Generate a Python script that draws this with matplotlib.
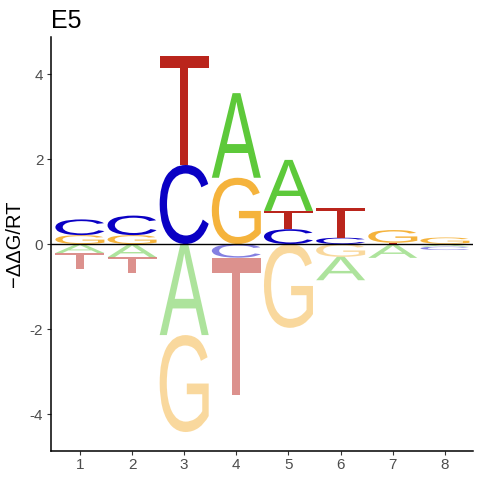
import matplotlib
matplotlib.use('Agg')
import matplotlib.pyplot as plt
from matplotlib.textpath import TextPath
from matplotlib.patches import PathPatch
from matplotlib.font_manager import FontProperties
from matplotlib.transforms import Affine2D

plt.rcParams['font.family'] = ['Liberation Sans', 'DejaVu Sans']
plt.rcParams['axes.unicode_minus'] = False

# energy values per position (-ddG/RT)
positions = [1, 2, 3, 4, 5, 6, 7, 8]
energy_A = [-0.21, -0.31, -2.14, 1.99, 1.20, -0.55, -0.32, -0.06]
energy_C = [0.37, 0.46, 1.86, -0.32, 0.35, 0.15, -0.005, -0.08]
energy_G = [0.21, 0.21, -2.28, 1.56, -1.97, -0.30, 0.30, 0.15]
energy_T = [-0.38, -0.37, 2.56, -3.23, 0.43, 0.71, 0.03, 0.005]

letter_colors = {'A': '#5DC93A', 'C': '#0A00C4', 'G': '#F5B33C', 'T': '#BA251C'}
letter_width = 0.94

fp = FontProperties(family='Liberation Sans')


def draw_letter(ax, letter, x, y0, y1, color, alpha):
    tp = TextPath((0, 0), letter, size=1, prop=fp)
    bb = tp.get_extents()
    t = (Affine2D()
         .translate(-bb.x0, -bb.y0)
         .scale(letter_width / bb.width, (y1 - y0) / bb.height)
         .translate(x - letter_width / 2, y0))
    path = t.transform_path(tp)
    ax.add_patch(PathPatch(path, facecolor=color, edgecolor='none', alpha=alpha, zorder=2))


fig = plt.figure(figsize=(4.8, 4.8), dpi=100)
ax = fig.add_axes([0.1056, 0.061, 0.88, 0.861])

for i, pos in enumerate(positions):
    vals = {'A': energy_A[i], 'C': energy_C[i], 'G': energy_G[i], 'T': energy_T[i]}
    pos_letters = sorted([(v, k) for k, v in vals.items() if v > 0])
    neg_letters = sorted([(-v, k) for k, v in vals.items() if v < 0])
    base = 0.0
    for v, k in pos_letters:
        draw_letter(ax, k, pos, base, base + v, letter_colors[k], 1.0)
        base += v
    base = 0.0
    for v, k in neg_letters:
        draw_letter(ax, k, pos, base - v, base, letter_colors[k], 0.5)
        base -= v

ax.axhline(0, color='black', linewidth=1.0, zorder=3)

ax.set_xlim(0.44, 8.54)
ax.set_ylim(-4.86, 4.86)
ax.set_xticks(positions)
ax.set_xticklabels([str(p) for p in positions])
ax.set_yticks([-4, -2, 0, 2, 4])
ax.set_yticklabels(['-4', '-2', '0', '2', '4'])

for side in ['top', 'right']:
    ax.spines[side].set_visible(False)
for side in ['left', 'bottom']:
    ax.spines[side].set_linewidth(1.1)
    ax.spines[side].set_color('black')

ax.tick_params(axis='both', length=2.8, width=0.8, color='#333333',
               labelcolor='#4D4D4D', labelsize=11, pad=2.5)

ax.set_ylabel('\u2212\u0394\u0394G/RT', fontsize=14.5, labelpad=4)
ax.set_title('E5', loc='left', fontsize=18, pad=7)

fig.savefig('out.png', dpi=100)
